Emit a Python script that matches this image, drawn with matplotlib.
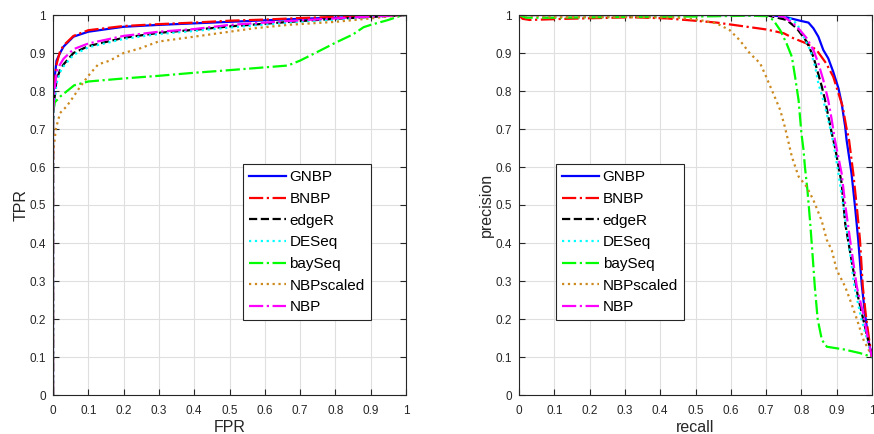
import matplotlib
matplotlib.use('Agg')
import matplotlib.pyplot as plt
from matplotlib.ticker import MultipleLocator

plt.rcParams['font.family'] = ['Liberation Sans', 'DejaVu Sans']

methods = ['GNBP', 'BNBP', 'edgeR', 'DESeq', 'baySeq', 'NBPscaled', 'NBP']
colors = ['#0000ff', '#ff0000', '#000000', '#00ffff', '#00ff00', '#cc8a1f', '#ff00ff']
styles = ['-', '-.', '--', ':', '-.', ':', '-.']

# ROC curves (FPR, TPR)
fpr_common = [0, 0, 0.003, 0.01, 0.02, 0.03, 0.058, 0.1, 0.2, 0.3, 0.4, 0.5, 0.6, 0.7, 0.8, 0.9, 1.0]
tpr_gnbp = [0, 0.78, 0.82, 0.88, 0.90, 0.917, 0.943, 0.956, 0.969, 0.974, 0.978, 0.982, 0.986, 0.99, 0.993, 0.996, 1.0]
tpr_bnbp = [0, 0.72, 0.80, 0.87, 0.905, 0.92, 0.945, 0.96, 0.971, 0.976, 0.98, 0.985, 0.988, 0.992, 0.995, 0.997, 1.0]
tpr_edger = [0, 0.72, 0.77, 0.83, 0.855, 0.87, 0.90, 0.918, 0.94, 0.953, 0.961, 0.97, 0.977, 0.984, 0.99, 0.995, 1.0]
tpr_deseq = [0, 0.72, 0.76, 0.82, 0.85, 0.865, 0.895, 0.915, 0.937, 0.95, 0.958, 0.967, 0.975, 0.982, 0.988, 0.994, 1.0]
tpr_nbp = [0, 0.73, 0.79, 0.85, 0.87, 0.885, 0.91, 0.925, 0.945, 0.956, 0.963, 0.974, 0.98, 0.986, 0.991, 0.996, 1.0]

fpr_bayseq = [0, 0, 0.005, 0.02, 0.04, 0.06, 0.1, 0.2, 0.3, 0.4, 0.474, 0.57, 0.665, 0.70, 0.76, 0.8,
              0.85, 0.88, 0.9, 0.95, 0.985, 1.0]
tpr_bayseq = [0, 0.74, 0.77, 0.785, 0.80, 0.815, 0.825, 0.833, 0.84, 0.848, 0.853, 0.86, 0.867, 0.88, 0.908,
              0.927, 0.949, 0.968, 0.974, 0.987, 0.998, 1.0]

fpr_scaled = [0, 0, 0.002, 0.008, 0.02, 0.039, 0.058, 0.076, 0.1, 0.128, 0.161, 0.2, 0.246, 0.298, 0.4,
              0.5, 0.57, 0.665, 0.8, 0.9, 0.95, 1.0]
tpr_scaled = [0, 0.6, 0.65, 0.70, 0.742, 0.76, 0.785, 0.81, 0.84, 0.87, 0.88, 0.9, 0.912, 0.93, 0.943,
              0.956, 0.965, 0.974, 0.982, 0.991, 0.996, 1.0]

roc_x = [fpr_common, fpr_common, fpr_common, fpr_common, fpr_bayseq, fpr_scaled, fpr_common]
roc_y = [tpr_gnbp, tpr_bnbp, tpr_edger, tpr_deseq, tpr_bayseq, tpr_scaled, tpr_nbp]

# Precision-recall curves
rec_gnbp = [0, 0.7, 0.749, 0.796, 0.82, 0.834, 0.848, 0.862, 0.876, 0.89, 0.905, 0.914, 0.924, 0.928,
            0.942, 0.952, 0.961, 0.971, 0.98, 0.99, 1.0]
pre_gnbp = [1, 1, 0.996, 0.985, 0.98, 0.965, 0.943, 0.908, 0.886, 0.851, 0.807, 0.768, 0.706, 0.671,
            0.583, 0.495, 0.408, 0.29, 0.215, 0.145, 0.1]

rec_bnbp = [0, 0.01, 0.03, 0.135, 0.32, 0.42, 0.51, 0.56, 0.607, 0.654, 0.70, 0.75, 0.777, 0.815, 0.843,
            0.87, 0.89, 0.908, 0.917, 0.927, 0.935, 0.947, 0.957, 0.966, 0.974, 0.982, 0.992, 1.0]
pre_bnbp = [1, 0.99, 0.987, 0.99, 0.994, 0.991, 0.984, 0.98, 0.974, 0.968, 0.962, 0.952, 0.939, 0.925,
            0.908, 0.873, 0.838, 0.785, 0.759, 0.706, 0.671, 0.583, 0.495, 0.408, 0.285, 0.215, 0.145, 0.1]

rec_edger = [0, 0.7, 0.758, 0.787, 0.815, 0.834, 0.858, 0.867, 0.886, 0.895, 0.914, 0.924, 0.942,
             0.96, 0.975, 0.99, 1.0]
pre_edger = [1, 1, 0.987, 0.965, 0.93, 0.89, 0.811, 0.776, 0.689, 0.653, 0.557, 0.452, 0.355,
             0.26, 0.2, 0.14, 0.1]

rec_deseq = [0, 0.7, 0.76, 0.787, 0.806, 0.825, 0.839, 0.848, 0.862, 0.876, 0.89, 0.905, 0.919,
             0.933, 0.95, 0.97, 0.988, 1.0]
pre_deseq = [1, 1, 0.995, 0.978, 0.943, 0.908, 0.864, 0.82, 0.776, 0.724, 0.667, 0.583, 0.495,
             0.408, 0.285, 0.2, 0.14, 0.1]

rec_bayseq = [0, 0.02, 0.1, 0.3, 0.5, 0.65, 0.702, 0.72, 0.74, 0.758, 0.773, 0.782, 0.792, 0.80, 0.806,
              0.81, 0.817, 0.825, 0.832, 0.838, 0.846, 0.858, 0.872, 0.92, 0.967, 1.0]
pre_bayseq = [1, 0.993, 0.993, 0.995, 0.996, 0.998, 0.997, 0.987, 0.96, 0.925, 0.89, 0.838, 0.776, 0.689,
              0.645, 0.6, 0.54, 0.452, 0.364, 0.285, 0.2, 0.145, 0.127, 0.12, 0.11, 0.1]

rec_scaled = [0, 0.1, 0.3, 0.45, 0.51, 0.56, 0.597, 0.625, 0.654, 0.683, 0.70, 0.72, 0.74, 0.753, 0.762,
              0.773, 0.792, 0.815, 0.834, 0.857, 0.872, 0.886, 0.9, 0.924, 0.938, 0.957, 0.976, 0.99, 1.0]
pre_scaled = [1, 0.995, 0.994, 0.993, 0.987, 0.978, 0.96, 0.934, 0.899, 0.873, 0.838, 0.794, 0.75, 0.706,
              0.671, 0.627, 0.575, 0.548, 0.513, 0.46, 0.408, 0.381, 0.329, 0.285, 0.25, 0.2, 0.145, 0.12, 0.1]

rec_nbp = [0, 0.7, 0.749, 0.777, 0.796, 0.815, 0.834, 0.848, 0.862, 0.876, 0.886, 0.895, 0.914, 0.925,
           0.938, 0.957, 0.975, 0.989, 1.0]
pre_nbp = [1, 1, 0.996, 0.978, 0.96, 0.939, 0.908, 0.873, 0.829, 0.776, 0.724, 0.671, 0.583, 0.495,
           0.408, 0.285, 0.215, 0.145, 0.1]

pr_x = [rec_gnbp, rec_bnbp, rec_edger, rec_deseq, rec_bayseq, rec_scaled, rec_nbp]
pr_y = [pre_gnbp, pre_bnbp, pre_edger, pre_deseq, pre_bayseq, pre_scaled, pre_nbp]

W, H = 874, 434
fig = plt.figure(figsize=(W / 100, H / 100), dpi=100)
ax1 = fig.add_axes([53 / W, (H - 395) / H, 353 / W, 380 / H])
ax2 = fig.add_axes([519 / W, (H - 395) / H, 353 / W, 380 / H])


def style_axes(ax, xlabel, ylabel):
    ax.set_xlim(0, 1)
    ax.set_ylim(0, 1)
    ax.xaxis.set_major_locator(MultipleLocator(0.1))
    ax.yaxis.set_major_locator(MultipleLocator(0.1))
    fmt = lambda v, p: ('%g' % round(v, 2))
    ax.xaxis.set_major_formatter(plt.FuncFormatter(fmt))
    ax.yaxis.set_major_formatter(plt.FuncFormatter(fmt))
    ax.grid(True, color='#dfdfdf', linewidth=0.8)
    ax.set_axisbelow(True)
    ax.tick_params(direction='in', top=True, right=True, length=4, width=0.8,
                   labelsize=8.5, colors='#262626')
    ax.tick_params(axis='x', pad=7)
    ax.tick_params(axis='y', pad=5)
    for s in ax.spines.values():
        s.set_color('#262626')
        s.set_linewidth(0.8)
    ax.set_xlabel(xlabel, fontsize=11.5, color='#262626', labelpad=2)
    ax.set_ylabel(ylabel, fontsize=11.5, color='#262626', labelpad=1)


for i in range(len(methods)):
    ax1.plot(roc_x[i], roc_y[i], linestyle=styles[i], color=colors[i], linewidth=1.6, label=methods[i])
    ax2.plot(pr_x[i], pr_y[i], linestyle=styles[i], color=colors[i], linewidth=1.6, label=methods[i])

style_axes(ax1, 'FPR', 'TPR')
style_axes(ax2, 'recall', 'precision')

for ax, x0 in [(ax1, 0.538), (ax2, 0.105)]:
    leg = ax.legend(loc='upper left', bbox_to_anchor=(x0, 0.607), fontsize=11, frameon=True,
                    fancybox=False, edgecolor='#262626', framealpha=1, handlelength=2.4,
                    handletextpad=0.25, labelspacing=0.5, borderpad=0.4, borderaxespad=0)
    leg.get_frame().set_linewidth(0.8)

fig.savefig('out.png', dpi=100)
